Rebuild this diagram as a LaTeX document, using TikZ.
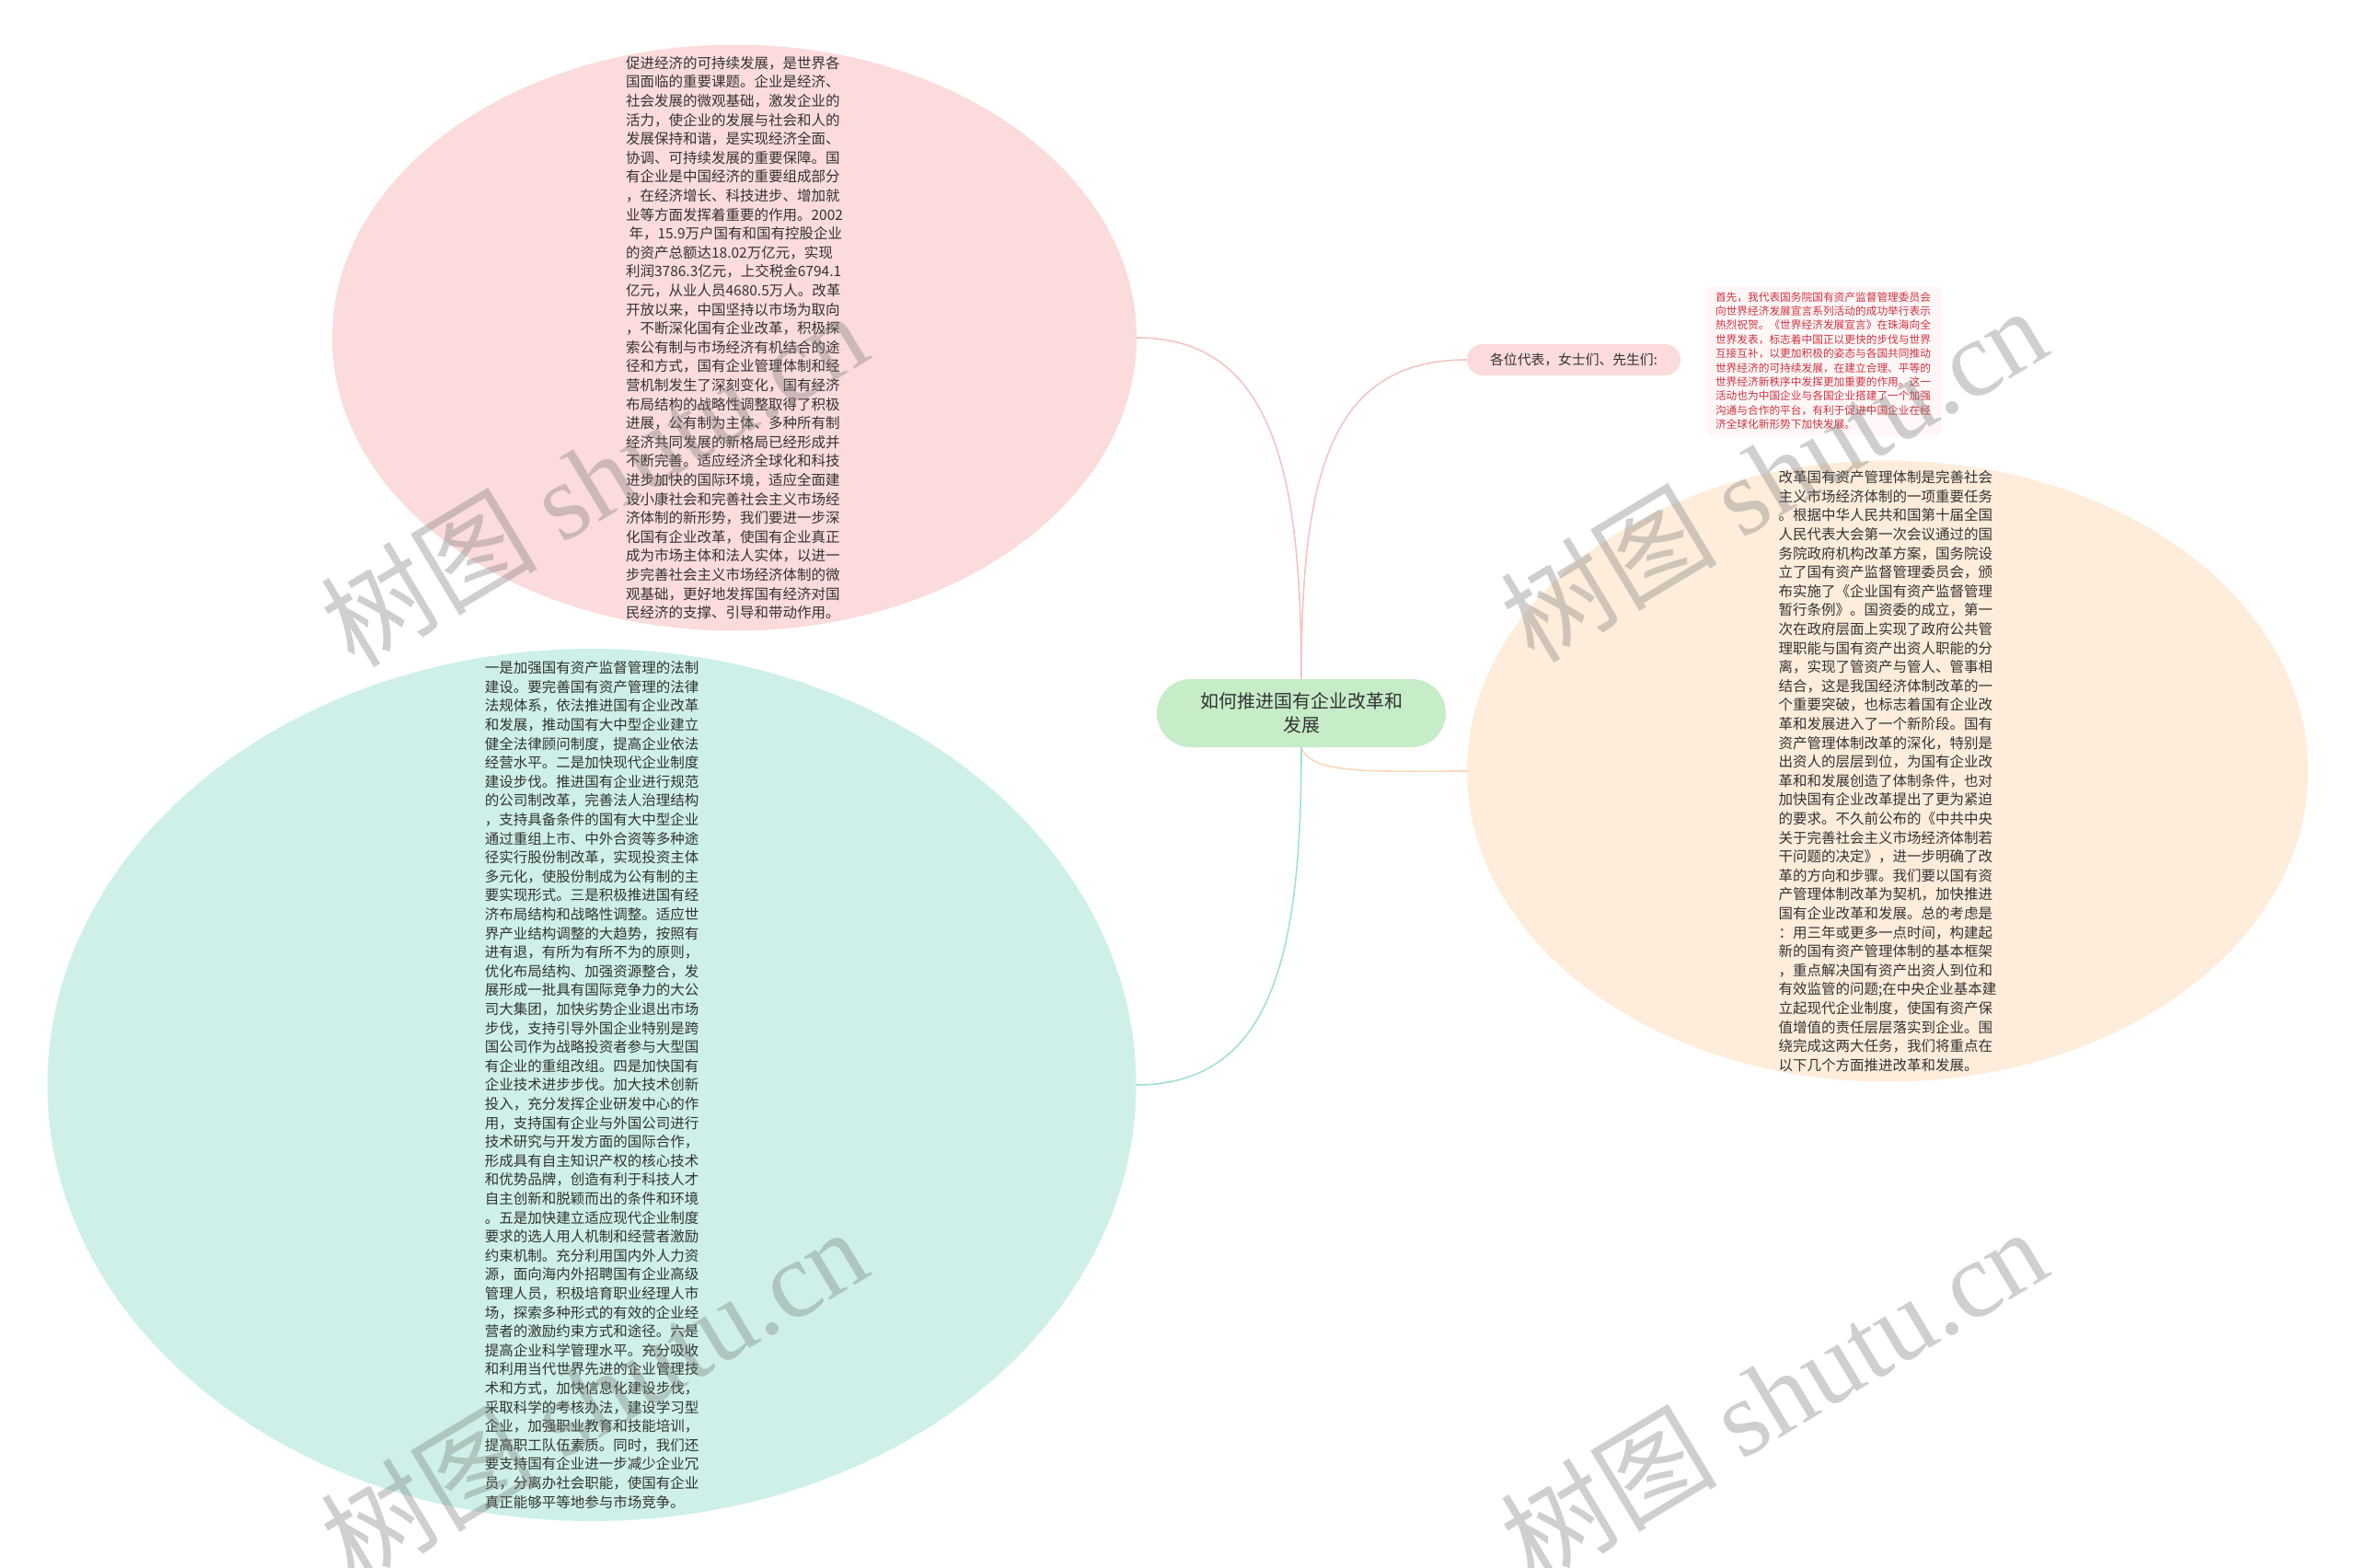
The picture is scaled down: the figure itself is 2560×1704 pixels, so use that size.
\documentclass[tikz,border=0pt]{standalone}
\usepackage{fontspec}
\setmainfont{Noto Sans CJK SC}
\newfontfamily\wmserif{Liberation Serif}
\usetikzlibrary{shapes.geometric}
\definecolor{pinkfill}{RGB}{251,219,219}
\definecolor{cyanfill}{RGB}{206,240,232}
\definecolor{orangefill}{RGB}{255,237,219}
\definecolor{greenfill}{RGB}{198,236,200}
\definecolor{notefill}{RGB}{255,247,247}
\definecolor{txt}{RGB}{51,51,51}
\definecolor{redtxt}{RGB}{204,51,64}
\definecolor{lpink}{RGB}{245,196,196}
\definecolor{lcyan}{RGB}{160,226,212}
\definecolor{lorange}{RGB}{250,216,184}
\definecolor{wmgray}{RGB}{120,120,120}
\tikzset{
  blob/.style={ellipse, draw=none, inner sep=0pt},
  bodytext/.style={align=left, text=txt, inner sep=0pt, font=\fontsize{15.5}{20.6}\selectfont},
  notetext/.style={align=left, text=redtxt, inner sep=0pt, font=\fontsize{11.7}{15.4}\selectfont},
  link/.style={line width=1.6pt},
  wm/.style={text=wmgray, opacity=0.35, rotate=31, inner sep=0pt, font=\fontsize{118}{118}\selectfont}
}
\begin{document}
\begin{tikzpicture}[x=1pt,y=-1pt]
\useasboundingbox[fill=white] (0,0) rectangle (2560,1704);

% ellipses
\node[blob, fill=pinkfill, minimum width=874pt, minimum height=637pt] (pinkE) at (798,367) {};
\node[blob, fill=cyanfill, minimum width=1183pt, minimum height=948pt] (cyanE) at (643,1179) {};
\node[blob, fill=orangefill, minimum width=914pt, minimum height=675pt] (orangeE) at (2051,838) {};

% central node
\node[fill=greenfill, rounded corners=37pt, minimum width=314pt, minimum height=74pt, inner sep=0pt, align=center, text=txt, font=\fontsize{20}{26}\selectfont] (root) at (1414,775) {如何推进国有企业改革和\\发展};

% label node
\node[fill=pinkfill, rounded corners=17pt, minimum width=232pt, minimum height=34pt, inner sep=0pt, text=txt, font=\fontsize{14.8}{18}\selectfont] (greet) at (1710,391) {各位代表，女士们、先生们:};

% note box
\node[fill=notefill, rounded corners=8pt, minimum width=258pt, minimum height=162pt, inner sep=0pt] (noteB) at (1981,392) {};

% connectors
\draw[link, lpink] (pinkE.east) .. controls +(150,0) and +(0,-220) .. (root.north);
\draw[link, lpink] (greet.west) .. controls +(-150,0) and +(0,-220) .. (root.north);
\draw[link, lorange] (root.south) .. controls +(10,30) and +(-100,0) .. (orangeE.west);
\draw[link, lcyan] (root.south) .. controls +(0,220) and +(150,0) .. (cyanE.east);

% texts
\node[bodytext] (pinkT) at (pinkE.center) {促进经济的可持续发展，是世界各\\
国面临的重要课题。企业是经济、\\
社会发展的微观基础，激发企业的\\
活力，使企业的发展与社会和人的\\
发展保持和谐，是实现经济全面、\\
协调、可持续发展的重要保障。国\\
有企业是中国经济的重要组成部分\\
，在经济增长、科技进步、增加就\\
业等方面发挥着重要的作用。2002\\
\ 年，15.9万户国有和国有控股企业\\
的资产总额达18.02万亿元，实现\\
利润3786.3亿元，上交税金6794.1\\
亿元，从业人员4680.5万人。改革\\
开放以来，中国坚持以市场为取向\\
，不断深化国有企业改革，积极探\\
索公有制与市场经济有机结合的途\\
径和方式，国有企业管理体制和经\\
营机制发生了深刻变化，国有经济\\
布局结构的战略性调整取得了积极\\
进展，公有制为主体、多种所有制\\
经济共同发展的新格局已经形成并\\
不断完善。适应经济全球化和科技\\
进步加快的国际环境，适应全面建\\
设小康社会和完善社会主义市场经\\
济体制的新形势，我们要进一步深\\
化国有企业改革，使国有企业真正\\
成为市场主体和法人实体，以进一\\
步完善社会主义市场经济体制的微\\
观基础，更好地发挥国有经济对国\\
民经济的支撑、引导和带动作用。};

\node[bodytext] (cyanT) at (cyanE.center) {一是加强国有资产监督管理的法制\\
建设。要完善国有资产管理的法律\\
法规体系，依法推进国有企业改革\\
和发展，推动国有大中型企业建立\\
健全法律顾问制度，提高企业依法\\
经营水平。二是加快现代企业制度\\
建设步伐。推进国有企业进行规范\\
的公司制改革，完善法人治理结构\\
，支持具备条件的国有大中型企业\\
通过重组上市、中外合资等多种途\\
径实行股份制改革，实现投资主体\\
多元化，使股份制成为公有制的主\\
要实现形式。三是积极推进国有经\\
济布局结构和战略性调整。适应世\\
界产业结构调整的大趋势，按照有\\
进有退，有所为有所不为的原则，\\
优化布局结构、加强资源整合，发\\
展形成一批具有国际竞争力的大公\\
司大集团，加快劣势企业退出市场\\
步伐，支持引导外国企业特别是跨\\
国公司作为战略投资者参与大型国\\
有企业的重组改组。四是加快国有\\
企业技术进步步伐。加大技术创新\\
投入，充分发挥企业研发中心的作\\
用，支持国有企业与外国公司进行\\
技术研究与开发方面的国际合作，\\
形成具有自主知识产权的核心技术\\
和优势品牌，创造有利于科技人才\\
自主创新和脱颖而出的条件和环境\\
。五是加快建立适应现代企业制度\\
要求的选人用人机制和经营者激励\\
约束机制。充分利用国内外人力资\\
源，面向海内外招聘国有企业高级\\
管理人员，积极培育职业经理人市\\
场，探索多种形式的有效的企业经\\
营者的激励约束方式和途径。六是\\
提高企业科学管理水平。充分吸收\\
和利用当代世界先进的企业管理技\\
术和方式，加快信息化建设步伐，\\
采取科学的考核办法，建设学习型\\
企业，加强职业教育和技能培训，\\
提高职工队伍素质。同时，我们还\\
要支持国有企业进一步减少企业冗\\
员，分离办社会职能，使国有企业\\
真正能够平等地参与市场竞争。};

\node[bodytext] (orangeT) at (orangeE.center) {改革国有资产管理体制是完善社会\\
主义市场经济体制的一项重要任务\\
。根据中华人民共和国第十届全国\\
人民代表大会第一次会议通过的国\\
务院政府机构改革方案，国务院设\\
立了国有资产监督管理委员会，颁\\
布实施了《企业国有资产监督管理\\
暂行条例》。国资委的成立，第一\\
次在政府层面上实现了政府公共管\\
理职能与国有资产出资人职能的分\\
离，实现了管资产与管人、管事相\\
结合，这是我国经济体制改革的一\\
个重要突破，也标志着国有企业改\\
革和发展进入了一个新阶段。国有\\
资产管理体制改革的深化，特别是\\
出资人的层层到位，为国有企业改\\
革和和发展创造了体制条件，也对\\
加快国有企业改革提出了更为紧迫\\
的要求。不久前公布的《中共中央\\
关于完善社会主义市场经济体制若\\
干问题的决定》，进一步明确了改\\
革的方向和步骤。我们要以国有资\\
产管理体制改革为契机，加快推进\\
国有企业改革和发展。总的考虑是\\
：用三年或更多一点时间，构建起\\
新的国有资产管理体制的基本框架\\
，重点解决国有资产出资人到位和\\
有效监管的问题;在中央企业基本建\\
立起现代企业制度，使国有资产保\\
值增值的责任层层落实到企业。围\\
绕完成这两大任务，我们将重点在\\
以下几个方面推进改革和发展。};

\node[notetext] (noteT) at (noteB.center) {首先，我代表国务院国有资产监督管理委员会\\
向世界经济发展宣言系列活动的成功举行表示\\
热烈祝贺。《世界经济发展宣言》在珠海向全\\
世界发表，标志着中国正以更快的步伐与世界\\
互接互补，以更加积极的姿态与各国共同推动\\
世界经济的可持续发展，在建立合理、平等的\\
世界经济新秩序中发挥更加重要的作用。这一\\
活动也为中国企业与各国企业搭建了一个加强\\
沟通与合作的平台，有利于促进中国企业在经\\
济全球化新形势下加快发展。};

% watermarks
\node[wm] (wm1) at (645,519) {树图 {\wmserif shutu.cn}};
\node[wm] (wm2) at (1927,514) {树图 {\wmserif shutu.cn}};
\node[wm] (wm3) at (645,1515) {树图 {\wmserif shutu.cn}};
\node[wm] (wm4) at (1927,1515) {树图 {\wmserif shutu.cn}};
\end{tikzpicture}
\end{document}
